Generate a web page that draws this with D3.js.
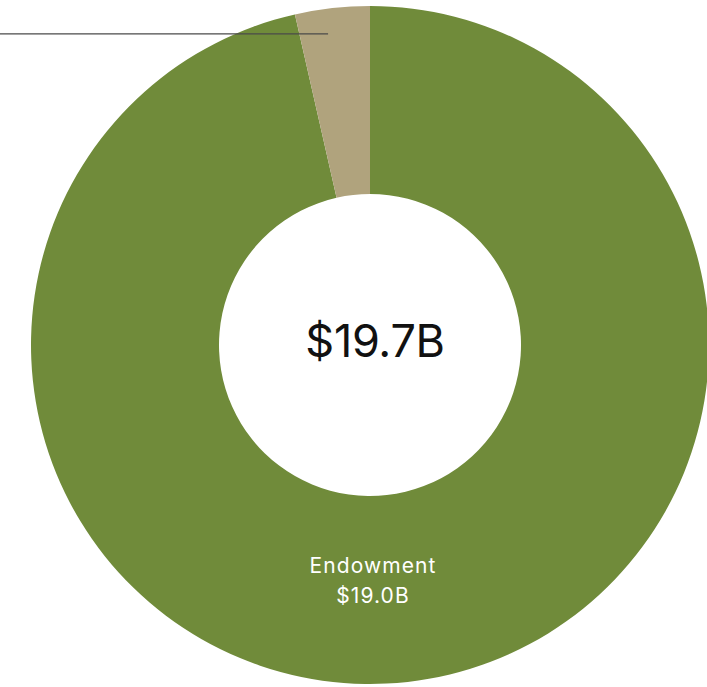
<!DOCTYPE html>
<html>
<head>
<meta charset="utf-8">
<script src="https://cdn.jsdelivr.net/npm/d3@7"></script>
<style>
  html, body { margin: 0; padding: 0; background: #fff; }
  svg { display: block; }
</style>
</head>
<body>
<svg id="chart" width="707" height="687"></svg>
<script>
// Asset breakdown (billions of dollars)
const categories = ["Endowment", "Other"];
const values = [19.0, 0.7];
const totalLabel = "$19.7B";
const colors = ["#708b3a", "#b0a37d"];

const width = 707, height = 687;
const cx = 370, cy = 345;
const outerR = 339, innerR = 151;

const svg = d3.select("#chart");
const g = svg.append("g").attr("transform", `translate(${cx},${cy})`);

const data = categories.map((c, i) => ({ name: c, value: values[i] }));

const pie = d3.pie().sort(null).value(d => d.value);
const arc = d3.arc().innerRadius(innerR).outerRadius(outerR);
const arcs = pie(data);

g.selectAll("path.slice")
  .data(arcs)
  .join("path")
  .attr("class", "slice")
  .attr("d", arc)
  .attr("fill", (d, i) => colors[i]);

// Leader line from the small slice out to the left margin
const small = arcs[1];
const mid = small.startAngle + (small.endAngle - small.startAngle) * 0.4;
const lr = 314;
const lx = lr * Math.sin(mid), ly = -lr * Math.cos(mid);
g.append("line")
  .attr("x1", lx).attr("y1", ly)
  .attr("x2", -cx).attr("y2", ly)
  .attr("stroke", "#4a4a4a")
  .attr("stroke-width", 1.3);

// Total in the hole
g.append("text")
  .attr("x", 5).attr("y", 12)
  .attr("text-anchor", "middle")
  .attr("font-family", "Inter, 'Liberation Sans', sans-serif")
  .attr("font-size", 45)
  .attr("letter-spacing", -0.3)
  .attr("fill", "#111")
  .text(totalLabel);

// Label for the main slice
const lab = g.append("text")
  .attr("text-anchor", "middle")
  .attr("font-family", "Inter, 'Liberation Sans', sans-serif")
  .attr("font-size", 21)
  .attr("letter-spacing", 1.1)
  .attr("fill", "#fff");
lab.append("tspan").attr("x", 3).attr("y", 228).text(data[0].name);
lab.append("tspan").attr("x", 3).attr("y", 258).text("$" + data[0].value.toFixed(1) + "B");
</script>
</body>
</html>
